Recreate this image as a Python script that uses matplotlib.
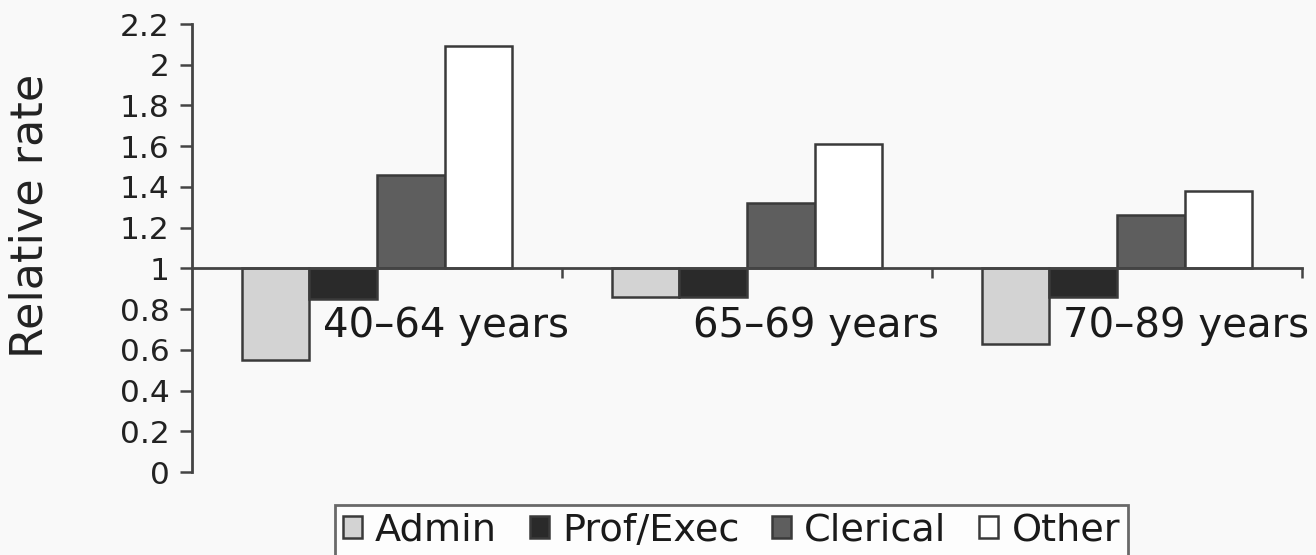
import matplotlib
matplotlib.use("Agg")
import matplotlib.pyplot as plt
import numpy as np

categories = ["40\u201364 years", "65\u201369 years", "70\u201389 years"]
series_names = ["Admin", "Prof/Exec", "Clerical", "Other"]
admin = [0.55, 0.86, 0.63]
prof_exec = [0.85, 0.86, 0.86]
clerical = [1.46, 1.32, 1.26]
other = [2.09, 1.61, 1.38]
series_values = [admin, prof_exec, clerical, other]
yticks = [0, 0.2, 0.4, 0.6, 0.8, 1, 1.2, 1.4, 1.6, 1.8, 2, 2.2]
ytick_labels = ["0", "0.2", "0.4", "0.6", "0.8", "1", "1.2", "1.4", "1.6", "1.8", "2", "2.2"]

colors = ["#d3d3d3", "#2a2a2a", "#5e5e5e", "#ffffff"]
edge = "#3a3a3a"
bg = "#f9f9f9"

plt.rcParams['font.family'] = ['DejaVu Sans']

fig = plt.figure(figsize=(13.16, 5.55), dpi=100, facecolor=bg)
ax = fig.add_axes([192/1316, 1-472/555, (1302-192)/1316, (472-24)/555])
ax.set_facecolor(bg)

x = np.arange(len(categories))
w = 0.183
offsets = [-1.5, -0.5, 0.5, 1.5]
for vals, off, c, name in zip(series_values, offsets, colors, series_names):
    vals = np.array(vals)
    ax.bar(x + off*w, vals - 1, bottom=1, width=w, color=c, edgecolor=edge,
           linewidth=1.8, label=name, zorder=2)

ax.set_xlim(-0.5, 2.5)
ax.set_ylim(0, 2.2)
ax.set_yticks(yticks)
ax.set_yticklabels(ytick_labels, fontsize=22.5, color="#222222")
ax.tick_params(axis='y', direction='out', length=9, width=1.8, color="#444444", pad=7)

ax.spines['top'].set_visible(False)
ax.spines['right'].set_visible(False)
ax.spines['left'].set_color("#444444")
ax.spines['left'].set_linewidth(2)
ax.spines['bottom'].set_position(('data', 1))
ax.spines['bottom'].set_color("#444444")
ax.spines['bottom'].set_linewidth(2)
ax.spines['bottom'].set_zorder(3)
ax.set_xticks([0.5, 1.5, 2.5])
ax.set_xticklabels([])
ax.tick_params(axis='x', direction='out', length=7, width=1.8, color="#444444")

for i, cat in enumerate(categories):
    ax.text(i + 0.187, 0.715, cat, ha='center', va='center', fontsize=29, color="#1a1a1a")

fig.text(30/1316, 1-216/555, "Relative rate", rotation=90, ha='center', va='center',
         fontsize=32, color="#222222")

leg = fig.legend(loc='upper left', bbox_to_anchor=(335/1316, 1-505/555), ncol=4,
                 fontsize=27.5, frameon=True, fancybox=False, handlelength=0.5,
                 handleheight=0.5, handletextpad=0.35, columnspacing=0.85,
                 borderpad=0.2, borderaxespad=0)
leg.get_frame().set_edgecolor("#444444")
leg.get_frame().set_linewidth(2)
leg.get_frame().set_facecolor("#ffffff")
for t in leg.get_texts():
    t.set_color("#1a1a1a")

fig.savefig("out.png", dpi=100, facecolor=bg)
